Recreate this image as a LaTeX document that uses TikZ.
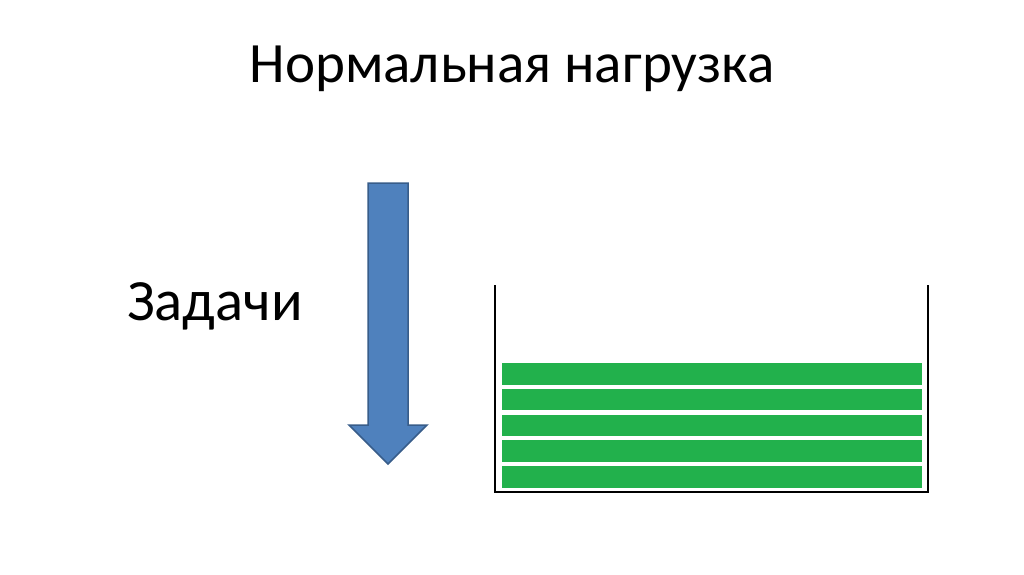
\documentclass[tikz,border=0pt]{standalone}
\usepackage{fontspec}
\setmainfont{Carlito}
\definecolor{arrowblue}{HTML}{4F81BD}
\definecolor{arrowedge}{HTML}{385D8A}
\definecolor{loadgreen}{HTML}{22B14C}
\tikzset{
	label text/.style={font=\fontsize{57}{68}\selectfont, inner sep=0pt},
	load bar/.style={fill=loadgreen, draw=none}
}
\begin{document}
\begin{tikzpicture}[x=1pt, y=-1pt]
	\useasboundingbox[fill=white] (0,0) rectangle (1024,574);
	\node[label text, anchor=base] (title) at (512,82) {Нормальная нагрузка};
	\node[label text, anchor=base west, font=\fontsize{58.5}{70}\selectfont] (tasks) at (127,320) {Задачи};

	\draw[fill=arrowblue, draw=arrowedge, line width=1.5pt, line join=miter]
		(368,183) -- (408,183) -- (408,425) -- (427,425) -- (388,464) -- (349,425) -- (368,425) -- cycle;

	\draw[line width=2pt] (495,285) -- (495,492) -- (928,492) -- (928,285);
	\foreach \i in {0,...,4}
	{
		\fill[load bar] (502, 363+25.8*\i) rectangle ++(420, 21.5);
	}
\end{tikzpicture}
\end{document}
